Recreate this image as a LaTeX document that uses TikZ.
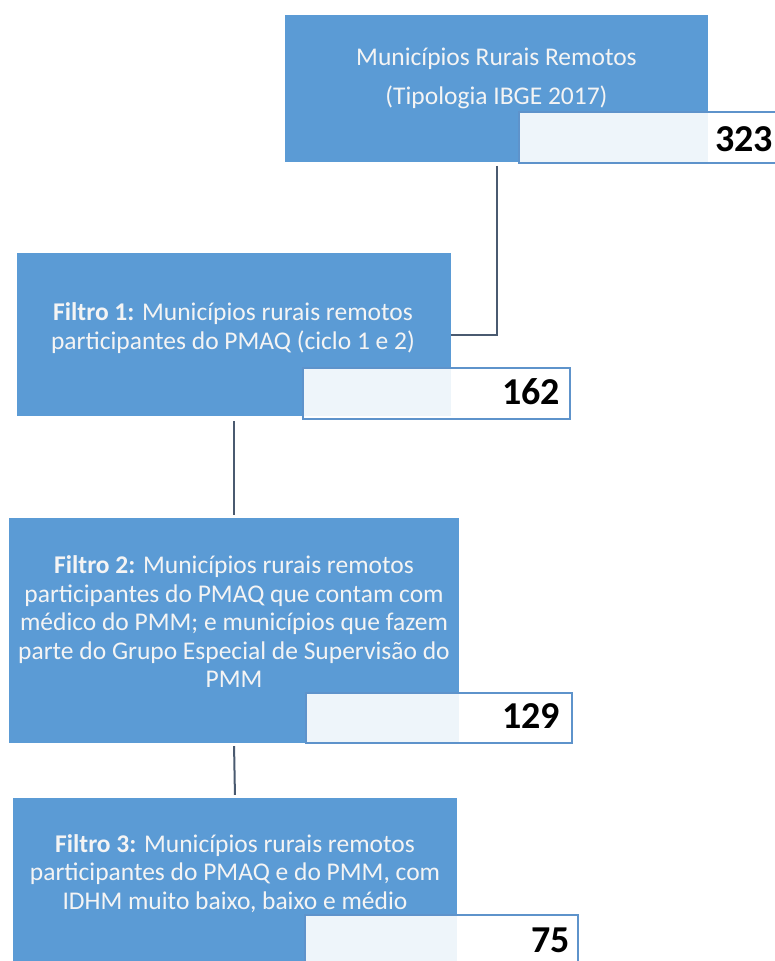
\documentclass[tikz,border=0pt]{standalone}
\usepackage{fontspec}
\setmainfont{Carlito}
\definecolor{boxblue}{HTML}{5B9BD5}
\definecolor{numborder}{HTML}{5E93CB}
\definecolor{conncol}{HTML}{4A5A70}
\definecolor{txtcol}{HTML}{F4F4F4}
\tikzset{
  bluebox/.style={fill=boxblue, draw=none, inner sep=0pt, minimum width=#1},
  numbox/.style={fill=white, fill opacity=0.9, draw=numborder, line width=1.6pt, inner sep=0pt},
  boxtext/.style={text=txtcol, align=center, inner sep=0pt, font=\fontsize{25.5}{28.5}\selectfont},
  numtext/.style={anchor=base east, inner sep=0pt, text=black, font=\fontsize{38}{40}\selectfont\bfseries},
  conn/.style={draw=conncol, line width=2pt}
}
\begin{document}
\begin{tikzpicture}[x=1pt,y=-1pt]
\useasboundingbox (0,0) rectangle (774,961);
% boxes
\node[bluebox=423pt, minimum height=147pt] (b1) at (496.5,88.5) {};
\node[bluebox=434pt, minimum height=163pt] (b2) at (234,334.5) {};
\node[bluebox=450pt, minimum height=225pt] (b3) at (234,630.5) {};
\node[bluebox=444pt, minimum height=172pt] (b4) at (235,884) {};
% number boxes
\node[numbox, minimum width=263pt, minimum height=51pt] (n1) at (650.5,137.5) {};
\node[numbox, minimum width=267pt, minimum height=51pt] (n2) at (436.5,393.5) {};
\node[numbox, minimum width=266pt, minimum height=50pt] (n3) at (439,718) {};
\node[numbox, minimum width=273pt, minimum height=55pt] (n4) at (441.5,942.5) {};
% texts
\node[boxtext, font=\fontsize{25.5}{39}\selectfont] (t1) at (496.5,78) {Municípios Rurais Remotos\\(Tipologia IBGE 2017)};
\node[boxtext] (t2) at (233,328) {\textbf{Filtro 1:} Municípios rurais remotos\\participantes do PMAQ (ciclo 1 e 2)};
\node[boxtext] (t3) at (234,622) {\textbf{Filtro 2:} Municípios rurais remotos\\participantes do PMAQ que contam com\\médico do PMM; e municípios que fazem\\parte do Grupo Especial de Supervisão do\\PMM};
\node[boxtext] (t4) at (235,873.5) {\textbf{Filtro 3:} Municípios rurais remotos\\participantes do PMAQ e do PMM, com\\IDHM muito baixo, baixo e médio};
% numbers
\node[numtext] (v1) at (773,151) {323};
\node[numtext] (v2) at (560,404) {162};
\node[numtext] (v3) at (560,728) {129};
\node[numtext] (v4) at (570,952) {75};
% connectors
\draw[conn] ([yshift=-2pt]b1.center |- n1.south) |- (b2.east);
\draw[conn, shorten <=1.5pt, shorten >=3pt] (b2.south |- n2.south) -- (b3.north);
\draw[conn, shorten <=3pt, shorten >=3pt] (b3.south) -- (b4.north);
\end{tikzpicture}
\end{document}
